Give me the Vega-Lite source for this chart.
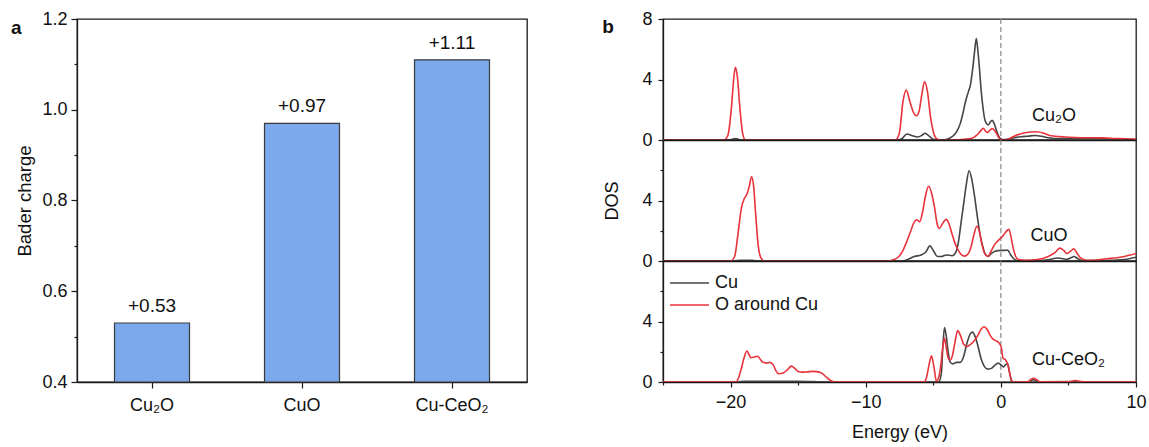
{
  "$schema": "https://vega.github.io/schema/vega-lite/v6.json",
  "background": "white",
  "padding": {"left": 10, "top": 9, "right": 2, "bottom": 2},
  "config": {
    "font": "Liberation Sans",
    "view": {"stroke": "#1a1a1a", "strokeWidth": 1.3},
    "axis": {"domainColor": "#1a1a1a", "domainWidth": 1.3, "tickColor": "#1a1a1a", "tickWidth": 1.2, "labelColor": "#111", "titleColor": "#111", "labelFontSize": 18, "titleFontSize": 18, "titleFontWeight": "normal", "grid": false, "labelFont": "Liberation Sans", "titleFont": "Liberation Sans"},
    "legend": {"labelFont": "Liberation Sans"},
    "title": {"fontSize": 19, "fontWeight": "bold", "anchor": "start", "color": "#111", "font": "Liberation Sans"}
  },
  "datasets": {
    "bader": [
      {"sample": "Cu₂O", "charge": 0.53, "label": "+0.53"},
      {"sample": "CuO", "charge": 0.97, "label": "+0.97"},
      {"sample": "Cu-CeO₂", "charge": 1.11, "label": "+1.11"}
    ],
    "labels": [
      {"p": "Cu2O", "t": "Cu₂O", "lx": 2.3, "ly": 1.6},
      {"p": "CuO", "t": "CuO", "lx": 2.2, "ly": 1.65},
      {"p": "CuCeO2", "t": "Cu-CeO₂", "lx": 2.3, "ly": 1.45}
    ],
    "dos": [
      {"p":"Cu2O","s":"Cu","e":-25,"d":0},{"p":"Cu2O","s":"Cu","e":-20.1,"d":0},{"p":"Cu2O","s":"Cu","e":-19.65,"d":0.1},{"p":"Cu2O","s":"Cu","e":-19.2,"d":0},{"p":"Cu2O","s":"Cu","e":-7.6,"d":0},{"p":"Cu2O","s":"Cu","e":-7.3,"d":0.1},{"p":"Cu2O","s":"Cu","e":-6.95,"d":0.4},{"p":"Cu2O","s":"Cu","e":-6.6,"d":0.3},{"p":"Cu2O","s":"Cu","e":-6.15,"d":0.2},{"p":"Cu2O","s":"Cu","e":-5.85,"d":0.3},{"p":"Cu2O","s":"Cu","e":-5.6,"d":0.45},{"p":"Cu2O","s":"Cu","e":-5.3,"d":0.25},{"p":"Cu2O","s":"Cu","e":-5.0,"d":0.05},{"p":"Cu2O","s":"Cu","e":-4.6,"d":0},{"p":"Cu2O","s":"Cu","e":-4.2,"d":0.02},{"p":"Cu2O","s":"Cu","e":-3.8,"d":0.12},{"p":"Cu2O","s":"Cu","e":-3.5,"d":0.3},{"p":"Cu2O","s":"Cu","e":-3.27,"d":0.55},{"p":"Cu2O","s":"Cu","e":-3.0,"d":1.1},{"p":"Cu2O","s":"Cu","e":-2.85,"d":1.6},{"p":"Cu2O","s":"Cu","e":-2.6,"d":2.6},{"p":"Cu2O","s":"Cu","e":-2.4,"d":3.2},{"p":"Cu2O","s":"Cu","e":-2.24,"d":3.7},{"p":"Cu2O","s":"Cu","e":-2.1,"d":4.6},{"p":"Cu2O","s":"Cu","e":-1.95,"d":5.8},{"p":"Cu2O","s":"Cu","e":-1.82,"d":6.7},{"p":"Cu2O","s":"Cu","e":-1.7,"d":5.9},{"p":"Cu2O","s":"Cu","e":-1.59,"d":4.8},{"p":"Cu2O","s":"Cu","e":-1.45,"d":3.2},{"p":"Cu2O","s":"Cu","e":-1.33,"d":2.2},{"p":"Cu2O","s":"Cu","e":-1.2,"d":1.4},{"p":"Cu2O","s":"Cu","e":-1.07,"d":1.1},{"p":"Cu2O","s":"Cu","e":-0.92,"d":1.0},{"p":"Cu2O","s":"Cu","e":-0.78,"d":1.2},{"p":"Cu2O","s":"Cu","e":-0.65,"d":1.3},{"p":"Cu2O","s":"Cu","e":-0.5,"d":1.1},{"p":"Cu2O","s":"Cu","e":-0.35,"d":0.7},{"p":"Cu2O","s":"Cu","e":-0.16,"d":0.25},{"p":"Cu2O","s":"Cu","e":0.1,"d":0.03},{"p":"Cu2O","s":"Cu","e":0.5,"d":0.05},{"p":"Cu2O","s":"Cu","e":1.0,"d":0.15},{"p":"Cu2O","s":"Cu","e":1.5,"d":0.22},{"p":"Cu2O","s":"Cu","e":2.0,"d":0.25},{"p":"Cu2O","s":"Cu","e":2.5,"d":0.3},{"p":"Cu2O","s":"Cu","e":3.0,"d":0.25},{"p":"Cu2O","s":"Cu","e":3.5,"d":0.15},{"p":"Cu2O","s":"Cu","e":4.0,"d":0.1},{"p":"Cu2O","s":"Cu","e":5.0,"d":0.1},{"p":"Cu2O","s":"Cu","e":6.5,"d":0.12},{"p":"Cu2O","s":"Cu","e":8.0,"d":0.08},{"p":"Cu2O","s":"Cu","e":10,"d":0.04},
      {"p":"Cu2O","s":"O around Cu","e":-25,"d":0},{"p":"Cu2O","s":"O around Cu","e":-20.5,"d":0},{"p":"Cu2O","s":"O around Cu","e":-20.2,"d":0.3},{"p":"Cu2O","s":"O around Cu","e":-19.95,"d":2.0},{"p":"Cu2O","s":"O around Cu","e":-19.75,"d":4.2},{"p":"Cu2O","s":"O around Cu","e":-19.64,"d":4.8},{"p":"Cu2O","s":"O around Cu","e":-19.5,"d":4.2},{"p":"Cu2O","s":"O around Cu","e":-19.3,"d":2.0},{"p":"Cu2O","s":"O around Cu","e":-19.1,"d":0.4},{"p":"Cu2O","s":"O around Cu","e":-18.9,"d":0},{"p":"Cu2O","s":"O around Cu","e":-7.8,"d":0},{"p":"Cu2O","s":"O around Cu","e":-7.5,"d":0.5},{"p":"Cu2O","s":"O around Cu","e":-7.25,"d":2.5},{"p":"Cu2O","s":"O around Cu","e":-7.0,"d":3.3},{"p":"Cu2O","s":"O around Cu","e":-6.75,"d":2.6},{"p":"Cu2O","s":"O around Cu","e":-6.45,"d":1.8},{"p":"Cu2O","s":"O around Cu","e":-6.25,"d":1.6},{"p":"Cu2O","s":"O around Cu","e":-6.05,"d":1.9},{"p":"Cu2O","s":"O around Cu","e":-5.85,"d":3.0},{"p":"Cu2O","s":"O around Cu","e":-5.65,"d":3.85},{"p":"Cu2O","s":"O around Cu","e":-5.45,"d":3.3},{"p":"Cu2O","s":"O around Cu","e":-5.2,"d":1.5},{"p":"Cu2O","s":"O around Cu","e":-4.95,"d":0.4},{"p":"Cu2O","s":"O around Cu","e":-4.7,"d":0.05},{"p":"Cu2O","s":"O around Cu","e":-4.4,"d":0},{"p":"Cu2O","s":"O around Cu","e":-3.5,"d":0},{"p":"Cu2O","s":"O around Cu","e":-2.75,"d":0.05},{"p":"Cu2O","s":"O around Cu","e":-2.2,"d":0.1},{"p":"Cu2O","s":"O around Cu","e":-1.8,"d":0.3},{"p":"Cu2O","s":"O around Cu","e":-1.5,"d":0.6},{"p":"Cu2O","s":"O around Cu","e":-1.3,"d":0.77},{"p":"Cu2O","s":"O around Cu","e":-1.1,"d":0.55},{"p":"Cu2O","s":"O around Cu","e":-1.0,"d":0.5},{"p":"Cu2O","s":"O around Cu","e":-0.8,"d":0.65},{"p":"Cu2O","s":"O around Cu","e":-0.63,"d":0.75},{"p":"Cu2O","s":"O around Cu","e":-0.4,"d":0.55},{"p":"Cu2O","s":"O around Cu","e":-0.15,"d":0.15},{"p":"Cu2O","s":"O around Cu","e":0,"d":0.02},{"p":"Cu2O","s":"O around Cu","e":0.3,"d":0.02},{"p":"Cu2O","s":"O around Cu","e":0.7,"d":0.12},{"p":"Cu2O","s":"O around Cu","e":1.1,"d":0.3},{"p":"Cu2O","s":"O around Cu","e":1.5,"d":0.42},{"p":"Cu2O","s":"O around Cu","e":1.9,"d":0.5},{"p":"Cu2O","s":"O around Cu","e":2.55,"d":0.55},{"p":"Cu2O","s":"O around Cu","e":3.2,"d":0.45},{"p":"Cu2O","s":"O around Cu","e":3.6,"d":0.3},{"p":"Cu2O","s":"O around Cu","e":4.0,"d":0.25},{"p":"Cu2O","s":"O around Cu","e":4.75,"d":0.2},{"p":"Cu2O","s":"O around Cu","e":5.5,"d":0.17},{"p":"Cu2O","s":"O around Cu","e":6.5,"d":0.15},{"p":"Cu2O","s":"O around Cu","e":7.6,"d":0.14},{"p":"Cu2O","s":"O around Cu","e":8.5,"d":0.1},{"p":"Cu2O","s":"O around Cu","e":9.2,"d":0.08},{"p":"Cu2O","s":"O around Cu","e":10,"d":0.05},
      {"p":"CuO","s":"Cu","e":-25,"d":0},{"p":"CuO","s":"Cu","e":-19.8,"d":0},{"p":"CuO","s":"Cu","e":-19.2,"d":0.05},{"p":"CuO","s":"Cu","e":-18.5,"d":0.05},{"p":"CuO","s":"Cu","e":-18.0,"d":0},{"p":"CuO","s":"Cu","e":-7.3,"d":0},{"p":"CuO","s":"Cu","e":-6.9,"d":0.1},{"p":"CuO","s":"Cu","e":-6.4,"d":0.3},{"p":"CuO","s":"Cu","e":-5.9,"d":0.4},{"p":"CuO","s":"Cu","e":-5.55,"d":0.6},{"p":"CuO","s":"Cu","e":-5.25,"d":1.0},{"p":"CuO","s":"Cu","e":-5.0,"d":0.7},{"p":"CuO","s":"Cu","e":-4.7,"d":0.3},{"p":"CuO","s":"Cu","e":-4.4,"d":0.3},{"p":"CuO","s":"Cu","e":-4.05,"d":0.4},{"p":"CuO","s":"Cu","e":-3.6,"d":0.35},{"p":"CuO","s":"Cu","e":-3.35,"d":0.55},{"p":"CuO","s":"Cu","e":-3.15,"d":1.2},{"p":"CuO","s":"Cu","e":-2.95,"d":2.5},{"p":"CuO","s":"Cu","e":-2.75,"d":3.8},{"p":"CuO","s":"Cu","e":-2.55,"d":5.1},{"p":"CuO","s":"Cu","e":-2.35,"d":5.97},{"p":"CuO","s":"Cu","e":-2.15,"d":5.4},{"p":"CuO","s":"Cu","e":-1.95,"d":4.3},{"p":"CuO","s":"Cu","e":-1.75,"d":3.0},{"p":"CuO","s":"Cu","e":-1.55,"d":1.8},{"p":"CuO","s":"Cu","e":-1.35,"d":1.0},{"p":"CuO","s":"Cu","e":-1.15,"d":0.45},{"p":"CuO","s":"Cu","e":-0.95,"d":0.3},{"p":"CuO","s":"Cu","e":-0.7,"d":0.5},{"p":"CuO","s":"Cu","e":-0.43,"d":0.65},{"p":"CuO","s":"Cu","e":0,"d":0.7},{"p":"CuO","s":"Cu","e":0.3,"d":0.7},{"p":"CuO","s":"Cu","e":0.5,"d":0.72},{"p":"CuO","s":"Cu","e":0.7,"d":0.45},{"p":"CuO","s":"Cu","e":0.9,"d":0.2},{"p":"CuO","s":"Cu","e":1.2,"d":0.03},{"p":"CuO","s":"Cu","e":2.5,"d":0.02},{"p":"CuO","s":"Cu","e":3.5,"d":0.08},{"p":"CuO","s":"Cu","e":4.2,"d":0.2},{"p":"CuO","s":"Cu","e":4.6,"d":0.15},{"p":"CuO","s":"Cu","e":4.88,"d":0.1},{"p":"CuO","s":"Cu","e":5.15,"d":0.2},{"p":"CuO","s":"Cu","e":5.4,"d":0.3},{"p":"CuO","s":"Cu","e":5.7,"d":0.15},{"p":"CuO","s":"Cu","e":6.0,"d":0.03},{"p":"CuO","s":"Cu","e":7.5,"d":0.03},{"p":"CuO","s":"Cu","e":9.15,"d":0.1},{"p":"CuO","s":"Cu","e":10,"d":0.25},
      {"p":"CuO","s":"O around Cu","e":-25,"d":0},{"p":"CuO","s":"O around Cu","e":-20.0,"d":0},{"p":"CuO","s":"O around Cu","e":-19.7,"d":0.3},{"p":"CuO","s":"O around Cu","e":-19.45,"d":1.8},{"p":"CuO","s":"O around Cu","e":-19.2,"d":3.5},{"p":"CuO","s":"O around Cu","e":-19.0,"d":4.1},{"p":"CuO","s":"O around Cu","e":-18.8,"d":4.4},{"p":"CuO","s":"O around Cu","e":-18.6,"d":5.0},{"p":"CuO","s":"O around Cu","e":-18.45,"d":5.57},{"p":"CuO","s":"O around Cu","e":-18.3,"d":5.0},{"p":"CuO","s":"O around Cu","e":-18.15,"d":3.2},{"p":"CuO","s":"O around Cu","e":-17.95,"d":1.0},{"p":"CuO","s":"O around Cu","e":-17.75,"d":0.2},{"p":"CuO","s":"O around Cu","e":-17.5,"d":0},{"p":"CuO","s":"O around Cu","e":-8.3,"d":0},{"p":"CuO","s":"O around Cu","e":-7.9,"d":0.1},{"p":"CuO","s":"O around Cu","e":-7.6,"d":0.25},{"p":"CuO","s":"O around Cu","e":-7.3,"d":0.6},{"p":"CuO","s":"O around Cu","e":-7.0,"d":1.2},{"p":"CuO","s":"O around Cu","e":-6.7,"d":1.9},{"p":"CuO","s":"O around Cu","e":-6.45,"d":2.5},{"p":"CuO","s":"O around Cu","e":-6.25,"d":2.73},{"p":"CuO","s":"O around Cu","e":-6.0,"d":2.6},{"p":"CuO","s":"O around Cu","e":-5.8,"d":3.2},{"p":"CuO","s":"O around Cu","e":-5.6,"d":4.2},{"p":"CuO","s":"O around Cu","e":-5.35,"d":4.94},{"p":"CuO","s":"O around Cu","e":-5.1,"d":4.4},{"p":"CuO","s":"O around Cu","e":-4.9,"d":3.5},{"p":"CuO","s":"O around Cu","e":-4.7,"d":2.4},{"p":"CuO","s":"O around Cu","e":-4.55,"d":2.15},{"p":"CuO","s":"O around Cu","e":-4.3,"d":2.5},{"p":"CuO","s":"O around Cu","e":-4.05,"d":2.75},{"p":"CuO","s":"O around Cu","e":-3.85,"d":2.5},{"p":"CuO","s":"O around Cu","e":-3.65,"d":1.9},{"p":"CuO","s":"O around Cu","e":-3.4,"d":1.2},{"p":"CuO","s":"O around Cu","e":-3.15,"d":0.7},{"p":"CuO","s":"O around Cu","e":-2.9,"d":0.4},{"p":"CuO","s":"O around Cu","e":-2.7,"d":0.32},{"p":"CuO","s":"O around Cu","e":-2.45,"d":0.45},{"p":"CuO","s":"O around Cu","e":-2.25,"d":0.8},{"p":"CuO","s":"O around Cu","e":-2.0,"d":1.7},{"p":"CuO","s":"O around Cu","e":-1.78,"d":2.3},{"p":"CuO","s":"O around Cu","e":-1.6,"d":2.0},{"p":"CuO","s":"O around Cu","e":-1.4,"d":1.1},{"p":"CuO","s":"O around Cu","e":-1.2,"d":0.5},{"p":"CuO","s":"O around Cu","e":-0.95,"d":0.3},{"p":"CuO","s":"O around Cu","e":-0.7,"d":0.7},{"p":"CuO","s":"O around Cu","e":-0.45,"d":1.1},{"p":"CuO","s":"O around Cu","e":-0.2,"d":1.35},{"p":"CuO","s":"O around Cu","e":0.1,"d":1.6},{"p":"CuO","s":"O around Cu","e":0.35,"d":1.9},{"p":"CuO","s":"O around Cu","e":0.6,"d":2.1},{"p":"CuO","s":"O around Cu","e":0.75,"d":1.6},{"p":"CuO","s":"O around Cu","e":0.9,"d":0.9},{"p":"CuO","s":"O around Cu","e":1.1,"d":0.3},{"p":"CuO","s":"O around Cu","e":1.3,"d":0.1},{"p":"CuO","s":"O around Cu","e":1.8,"d":0.05},{"p":"CuO","s":"O around Cu","e":2.7,"d":0.1},{"p":"CuO","s":"O around Cu","e":3.5,"d":0.3},{"p":"CuO","s":"O around Cu","e":4.0,"d":0.55},{"p":"CuO","s":"O around Cu","e":4.36,"d":0.85},{"p":"CuO","s":"O around Cu","e":4.65,"d":0.7},{"p":"CuO","s":"O around Cu","e":4.88,"d":0.5},{"p":"CuO","s":"O around Cu","e":5.15,"d":0.65},{"p":"CuO","s":"O around Cu","e":5.4,"d":0.8},{"p":"CuO","s":"O around Cu","e":5.65,"d":0.5},{"p":"CuO","s":"O around Cu","e":5.9,"d":0.2},{"p":"CuO","s":"O around Cu","e":6.3,"d":0.05},{"p":"CuO","s":"O around Cu","e":6.8,"d":0.05},{"p":"CuO","s":"O around Cu","e":7.85,"d":0.15},{"p":"CuO","s":"O around Cu","e":8.6,"d":0.22},{"p":"CuO","s":"O around Cu","e":9.15,"d":0.3},{"p":"CuO","s":"O around Cu","e":9.6,"d":0.4},{"p":"CuO","s":"O around Cu","e":10,"d":0.5},
      {"p":"CuCeO2","s":"Cu","e":-25,"d":0},{"p":"CuCeO2","s":"Cu","e":-19.5,"d":0},{"p":"CuCeO2","s":"Cu","e":-19.0,"d":0.05},{"p":"CuCeO2","s":"Cu","e":-17,"d":0.05},{"p":"CuCeO2","s":"Cu","e":-15,"d":0.05},{"p":"CuCeO2","s":"Cu","e":-13.5,"d":0.02},{"p":"CuCeO2","s":"Cu","e":-12.5,"d":0},{"p":"CuCeO2","s":"Cu","e":-4.6,"d":0},{"p":"CuCeO2","s":"Cu","e":-4.4,"d":0.6},{"p":"CuCeO2","s":"Cu","e":-4.3,"d":2.2},{"p":"CuCeO2","s":"Cu","e":-4.17,"d":3.6},{"p":"CuCeO2","s":"Cu","e":-4.05,"d":3.1},{"p":"CuCeO2","s":"Cu","e":-3.9,"d":2.0},{"p":"CuCeO2","s":"Cu","e":-3.75,"d":1.3},{"p":"CuCeO2","s":"Cu","e":-3.55,"d":1.2},{"p":"CuCeO2","s":"Cu","e":-3.3,"d":1.3},{"p":"CuCeO2","s":"Cu","e":-3.0,"d":1.3},{"p":"CuCeO2","s":"Cu","e":-2.75,"d":1.7},{"p":"CuCeO2","s":"Cu","e":-2.5,"d":2.6},{"p":"CuCeO2","s":"Cu","e":-2.25,"d":3.2},{"p":"CuCeO2","s":"Cu","e":-2.1,"d":3.3},{"p":"CuCeO2","s":"Cu","e":-1.9,"d":3.0},{"p":"CuCeO2","s":"Cu","e":-1.7,"d":2.4},{"p":"CuCeO2","s":"Cu","e":-1.45,"d":1.5},{"p":"CuCeO2","s":"Cu","e":-1.2,"d":1.0},{"p":"CuCeO2","s":"Cu","e":-0.95,"d":0.85},{"p":"CuCeO2","s":"Cu","e":-0.7,"d":0.9},{"p":"CuCeO2","s":"Cu","e":-0.45,"d":1.1},{"p":"CuCeO2","s":"Cu","e":-0.2,"d":1.25},{"p":"CuCeO2","s":"Cu","e":0.05,"d":1.1},{"p":"CuCeO2","s":"Cu","e":0.18,"d":1.0},{"p":"CuCeO2","s":"Cu","e":0.35,"d":1.15},{"p":"CuCeO2","s":"Cu","e":0.5,"d":1.2},{"p":"CuCeO2","s":"Cu","e":0.65,"d":0.6},{"p":"CuCeO2","s":"Cu","e":0.8,"d":0.05},{"p":"CuCeO2","s":"Cu","e":1.0,"d":0},{"p":"CuCeO2","s":"Cu","e":2.1,"d":0},{"p":"CuCeO2","s":"Cu","e":2.4,"d":0.15},{"p":"CuCeO2","s":"Cu","e":2.7,"d":0.02},{"p":"CuCeO2","s":"Cu","e":5.5,"d":0.03},{"p":"CuCeO2","s":"Cu","e":6.0,"d":0},{"p":"CuCeO2","s":"Cu","e":10,"d":0},
      {"p":"CuCeO2","s":"O around Cu","e":-25,"d":0},{"p":"CuCeO2","s":"O around Cu","e":-19.6,"d":0},{"p":"CuCeO2","s":"O around Cu","e":-19.4,"d":0.3},{"p":"CuCeO2","s":"O around Cu","e":-19.2,"d":0.9},{"p":"CuCeO2","s":"O around Cu","e":-19.0,"d":1.6},{"p":"CuCeO2","s":"O around Cu","e":-18.8,"d":2.05},{"p":"CuCeO2","s":"O around Cu","e":-18.65,"d":1.85},{"p":"CuCeO2","s":"O around Cu","e":-18.5,"d":1.6},{"p":"CuCeO2","s":"O around Cu","e":-18.25,"d":1.65},{"p":"CuCeO2","s":"O around Cu","e":-18.0,"d":1.7},{"p":"CuCeO2","s":"O around Cu","e":-17.8,"d":1.5},{"p":"CuCeO2","s":"O around Cu","e":-17.6,"d":1.3},{"p":"CuCeO2","s":"O around Cu","e":-17.35,"d":1.25},{"p":"CuCeO2","s":"O around Cu","e":-17.1,"d":1.3},{"p":"CuCeO2","s":"O around Cu","e":-16.85,"d":1.15},{"p":"CuCeO2","s":"O around Cu","e":-16.65,"d":0.75},{"p":"CuCeO2","s":"O around Cu","e":-16.45,"d":0.55},{"p":"CuCeO2","s":"O around Cu","e":-16.1,"d":0.6},{"p":"CuCeO2","s":"O around Cu","e":-15.8,"d":0.8},{"p":"CuCeO2","s":"O around Cu","e":-15.5,"d":1.05},{"p":"CuCeO2","s":"O around Cu","e":-15.25,"d":0.9},{"p":"CuCeO2","s":"O around Cu","e":-15.0,"d":0.7},{"p":"CuCeO2","s":"O around Cu","e":-14.7,"d":0.65},{"p":"CuCeO2","s":"O around Cu","e":-14.3,"d":0.67},{"p":"CuCeO2","s":"O around Cu","e":-13.9,"d":0.7},{"p":"CuCeO2","s":"O around Cu","e":-13.5,"d":0.67},{"p":"CuCeO2","s":"O around Cu","e":-13.2,"d":0.55},{"p":"CuCeO2","s":"O around Cu","e":-12.9,"d":0.3},{"p":"CuCeO2","s":"O around Cu","e":-12.6,"d":0.1},{"p":"CuCeO2","s":"O around Cu","e":-12.3,"d":0},{"p":"CuCeO2","s":"O around Cu","e":-5.7,"d":0},{"p":"CuCeO2","s":"O around Cu","e":-5.5,"d":0.3},{"p":"CuCeO2","s":"O around Cu","e":-5.3,"d":1.2},{"p":"CuCeO2","s":"O around Cu","e":-5.13,"d":1.73},{"p":"CuCeO2","s":"O around Cu","e":-4.95,"d":1.0},{"p":"CuCeO2","s":"O around Cu","e":-4.77,"d":0.05},{"p":"CuCeO2","s":"O around Cu","e":-4.6,"d":0.3},{"p":"CuCeO2","s":"O around Cu","e":-4.43,"d":1.2},{"p":"CuCeO2","s":"O around Cu","e":-4.3,"d":2.3},{"p":"CuCeO2","s":"O around Cu","e":-4.17,"d":2.9},{"p":"CuCeO2","s":"O around Cu","e":-4.05,"d":2.3},{"p":"CuCeO2","s":"O around Cu","e":-3.9,"d":1.6},{"p":"CuCeO2","s":"O around Cu","e":-3.75,"d":1.45},{"p":"CuCeO2","s":"O around Cu","e":-3.6,"d":1.7},{"p":"CuCeO2","s":"O around Cu","e":-3.4,"d":2.6},{"p":"CuCeO2","s":"O around Cu","e":-3.2,"d":3.4},{"p":"CuCeO2","s":"O around Cu","e":-3.0,"d":3.1},{"p":"CuCeO2","s":"O around Cu","e":-2.75,"d":2.5},{"p":"CuCeO2","s":"O around Cu","e":-2.5,"d":2.35},{"p":"CuCeO2","s":"O around Cu","e":-2.3,"d":2.45},{"p":"CuCeO2","s":"O around Cu","e":-2.0,"d":2.7},{"p":"CuCeO2","s":"O around Cu","e":-1.72,"d":3.05},{"p":"CuCeO2","s":"O around Cu","e":-1.45,"d":3.5},{"p":"CuCeO2","s":"O around Cu","e":-1.25,"d":3.65},{"p":"CuCeO2","s":"O around Cu","e":-1.0,"d":3.45},{"p":"CuCeO2","s":"O around Cu","e":-0.8,"d":3.1},{"p":"CuCeO2","s":"O around Cu","e":-0.6,"d":2.85},{"p":"CuCeO2","s":"O around Cu","e":-0.43,"d":2.75},{"p":"CuCeO2","s":"O around Cu","e":-0.15,"d":2.6},{"p":"CuCeO2","s":"O around Cu","e":0.05,"d":2.2},{"p":"CuCeO2","s":"O around Cu","e":0.15,"d":1.6},{"p":"CuCeO2","s":"O around Cu","e":0.35,"d":1.45},{"p":"CuCeO2","s":"O around Cu","e":0.5,"d":1.2},{"p":"CuCeO2","s":"O around Cu","e":0.65,"d":0.6},{"p":"CuCeO2","s":"O around Cu","e":0.8,"d":0.1},{"p":"CuCeO2","s":"O around Cu","e":1.0,"d":0},{"p":"CuCeO2","s":"O around Cu","e":2.0,"d":0.02},{"p":"CuCeO2","s":"O around Cu","e":2.2,"d":0.15},{"p":"CuCeO2","s":"O around Cu","e":2.4,"d":0.25},{"p":"CuCeO2","s":"O around Cu","e":2.65,"d":0.15},{"p":"CuCeO2","s":"O around Cu","e":2.9,"d":0.02},{"p":"CuCeO2","s":"O around Cu","e":5.0,"d":0.01},{"p":"CuCeO2","s":"O around Cu","e":5.5,"d":0.1},{"p":"CuCeO2","s":"O around Cu","e":5.9,"d":0.03},{"p":"CuCeO2","s":"O around Cu","e":6.5,"d":0},{"p":"CuCeO2","s":"O around Cu","e":10,"d":0}
    ]
  },
  "spacing": 74,
  "hconcat": [
    {
      "title": {"text": "a", "frame": "bounds", "dx": -5, "dy": 28, "offset": 0},
      "width": 450,
      "height": 363,
      "data": {"name": "bader"},
      "encoding": {
        "x": {"field": "sample", "type": "nominal", "sort": null, "scale": {"paddingInner": 0.5, "paddingOuter": 0.25}, "axis": {"title": null, "labelAngle": 0, "labelPadding": 8, "tickSize": 6, "labelFontSize": 18}}
      },
      "layer": [
        {
          "mark": {"type": "bar", "color": "#7BA9EC", "stroke": "#3a3a3a", "strokeWidth": 1.2},
          "encoding": {
            "y": {"field": "charge", "type": "quantitative", "scale": {"domain": [0.4, 1.2], "nice": false, "zero": false},
              "axis": {"title": "Bader charge", "titleFontSize": 18.5, "labelFontSize": 18, "values": [0.4, 0.5, 0.6, 0.7, 0.8, 0.9, 1.0, 1.1, 1.2], "labelExpr": "round(datum.value*10) % 2 === 0 ? format(datum.value, '.1f') : ''", "tickSize": {"condition": {"test": "round(datum.value*10) % 2 === 0", "value": 6}, "value": 3}, "labelPadding": 4, "titlePadding": 7}},
            "y2": {"datum": 0.4}
          }
        },
        {
          "mark": {"type": "text", "dy": -11, "baseline": "alphabetic", "fontSize": 19, "color": "#111"},
          "encoding": {
            "y": {"field": "charge", "type": "quantitative"},
            "text": {"field": "label"}
          }
        }
      ]
    },
    {
      "title": {"text": "b", "frame": "bounds", "dx": -1, "dy": 28, "offset": 0},
      "spacing": 0,
      "bounds": "flush",
      "resolve": {"scale": {"color": "independent"}},
      "vconcat": [
        {
          "width": 473, "height": 121,
          "layer": [
            {"data": {"values": [{"z": 0}]}, "mark": {"type": "rule", "color": "#8a8a8a", "strokeDash": [5, 3], "strokeWidth": 1.2},
             "encoding": {"x": {"field": "z", "type": "quantitative", "scale": {"domain": [-25, 10], "nice": false}, "axis": {"labels": false, "ticks": false, "title": null}}}},
            {"data": {"name": "dos"}, "transform": [{"filter": "datum.p === 'Cu2O'"}],
             "mark": {"type": "line", "strokeWidth": 1.6, "interpolate": "monotone", "clip": true},
             "encoding": {
               "x": {"field": "e", "type": "quantitative"},
               "y": {"field": "d", "type": "quantitative", "scale": {"domain": [0, 8], "nice": false},
                 "axis": {"title": null, "labelFontSize": 18, "values": [0, 2, 4, 6, 8], "labelExpr": "datum.value % 4 === 0 ? datum.label : ''", "tickSize": {"condition": {"test": "datum.value % 4 === 0", "value": 5}, "value": 3}, "labelPadding": 6}},
               "color": {"field": "s", "type": "nominal", "scale": {"domain": ["Cu", "O around Cu"], "range": ["#454545", "#e8333b"]}, "legend": null}
             }},
            {"data": {"name": "labels"}, "transform": [{"filter": "datum.p === 'Cu2O'"}],
             "mark": {"type": "text", "align": "left", "baseline": "middle", "fontSize": 18, "color": "#111"},
             "encoding": {"x": {"field": "lx", "type": "quantitative"}, "y": {"field": "ly", "type": "quantitative"}, "text": {"field": "t"}}}
          ]
        },
        {
          "width": 473, "height": 121,
          "layer": [
            {"data": {"values": [{"z": 0}]}, "mark": {"type": "rule", "color": "#8a8a8a", "strokeDash": [5, 3], "strokeWidth": 1.2},
             "encoding": {"x": {"field": "z", "type": "quantitative", "scale": {"domain": [-25, 10], "nice": false}, "axis": {"labels": false, "ticks": false, "title": null}}}},
            {"data": {"name": "dos"}, "transform": [{"filter": "datum.p === 'CuO'"}],
             "mark": {"type": "line", "strokeWidth": 1.6, "interpolate": "monotone", "clip": true},
             "encoding": {
               "x": {"field": "e", "type": "quantitative"},
               "y": {"field": "d", "type": "quantitative", "scale": {"domain": [0, 8], "nice": false},
                 "axis": {"title": "DOS", "titleFontSize": 18, "labelFontSize": 18, "values": [0, 2, 4, 6], "labelExpr": "datum.value % 4 === 0 ? datum.label : ''", "tickSize": {"condition": {"test": "datum.value % 4 === 0", "value": 5}, "value": 3}, "labelPadding": 6, "titlePadding": 20}},
               "color": {"field": "s", "type": "nominal", "scale": {"domain": ["Cu", "O around Cu"], "range": ["#454545", "#e8333b"]}, "legend": null}
             }},
            {"data": {"name": "labels"}, "transform": [{"filter": "datum.p === 'CuO'"}],
             "mark": {"type": "text", "align": "left", "baseline": "middle", "fontSize": 18, "color": "#111"},
             "encoding": {"x": {"field": "lx", "type": "quantitative"}, "y": {"field": "ly", "type": "quantitative"}, "text": {"field": "t"}}}
          ]
        },
        {
          "width": 473, "height": 121,
          "layer": [
            {"data": {"values": [{"z": 0}]}, "mark": {"type": "rule", "color": "#8a8a8a", "strokeDash": [5, 3], "strokeWidth": 1.2},
             "encoding": {"x": {"field": "z", "type": "quantitative", "scale": {"domain": [-25, 10], "nice": false},
               "axis": {"title": "Energy (eV)", "titleFontSize": 18, "labelFontSize": 18, "labelFlush": false, "values": [-25, -20, -15, -10, -5, 0, 5, 10], "labelExpr": "datum.value % 10 === 0 ? datum.label : ''", "tickSize": {"condition": {"test": "datum.value % 10 === 0", "value": 5}, "value": 3}, "labelPadding": 6, "titlePadding": 12}}}},
            {"data": {"name": "dos"}, "transform": [{"filter": "datum.p === 'CuCeO2'"}],
             "mark": {"type": "line", "strokeWidth": 1.6, "interpolate": "monotone", "clip": true},
             "encoding": {
               "x": {"field": "e", "type": "quantitative"},
               "y": {"field": "d", "type": "quantitative", "scale": {"domain": [0, 8], "nice": false},
                 "axis": {"title": null, "labelFontSize": 18, "values": [0, 2, 4, 6], "labelExpr": "datum.value % 4 === 0 ? datum.label : ''", "tickSize": {"condition": {"test": "datum.value % 4 === 0", "value": 5}, "value": 3}, "labelPadding": 6}},
               "color": {"field": "s", "type": "nominal", "scale": {"domain": ["Cu", "O around Cu"], "range": ["#454545", "#e8333b"]},
                 "legend": {"orient": "none", "legendX": 6, "legendY": 11, "title": null, "symbolType": "stroke", "symbolSize": 1520, "symbolStrokeWidth": 1.6, "clipHeight": 22, "labelFontSize": 18, "labelColor": "#111", "labelOffset": 5, "rowPadding": 0}}
             }},
            {"data": {"name": "labels"}, "transform": [{"filter": "datum.p === 'CuCeO2'"}],
             "mark": {"type": "text", "align": "left", "baseline": "middle", "fontSize": 18, "color": "#111"},
             "encoding": {"x": {"field": "lx", "type": "quantitative"}, "y": {"field": "ly", "type": "quantitative"}, "text": {"field": "t"}}}
          ]
        }
      ]
    }
  ]
}
